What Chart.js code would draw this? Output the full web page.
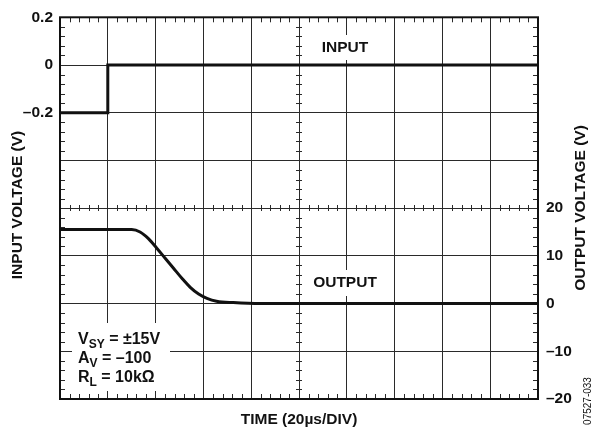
<!DOCTYPE html>
<html><head><meta charset="utf-8">
<script src="https://cdn.jsdelivr.net/npm/chart.js@4"></script>
<style>html,body{margin:0;padding:0;background:#fff}</style>
</head><body>
<canvas id="c" width="600" height="427"></canvas>
<script>
// ---- data (time in µs, 20 µs per division) ----
const inputTime  = [0, 20, 20, 200];
const inputVolt  = [-0.2, -0.2, 0, 0];
const outputTime = [0, 30, 33.5, 37, 40.5, 44, 47.5, 51, 54.5, 58, 61.5, 65.5, 72.5, 84, 200];
const outputVolt = [15.5, 15.5, 15.0, 13.6, 11.6, 9.5, 7.4, 5.3, 3.4, 2.0, 1.1, 0.5, 0.2, 0, 0];
const inputTickLabels  = [0.2, 0, -0.2];
const outputTickLabels = [20, 10, 0, -10, -20];

const FAM = '"Liberation Sans", Arial, Helvetica, sans-serif';
const INK = '#111';
const GRID = '#2a2a2a';

function fmt(v){ const r = Math.round(v*10)/10; return r < 0 ? '\u2013' + String(-r) : String(r); }

const toXY = (xs, ys) => xs.map((x, i) => ({x, y: ys[i]}));

function drawSub(ctx, x, y, parts){
  let cx = x;
  for (const p of parts){
    if (p.sub){ ctx.font = 'bold 12px ' + FAM; ctx.fillText(p.t, cx, y + 4); }
    else { ctx.font = 'bold 16px ' + FAM; ctx.fillText(p.t, cx, y); }
    cx += ctx.measureText(p.t).width;
  }
}

const decor = {
  id: 'decor',
  beforeDatasetsDraw(chart){
    const ctx = chart.ctx;
    ctx.save();
    ctx.fillStyle = '#fff';
    ctx.fillRect(318, 35, 58, 25);   // behind INPUT
    ctx.fillRect(310, 270, 72, 26);  // behind OUTPUT
    ctx.fillRect(72, 323, 98, 68);   // behind conditions
    ctx.restore();
  },
  afterDatasetsDraw(chart){
    const ctx = chart.ctx, a = chart.chartArea;
    const sx = chart.scales.x, sy = chart.scales.y1;
    ctx.save();
    ctx.strokeStyle = GRID; ctx.lineWidth = 1;
    ctx.beginPath();
    for (let d = 0; d < 10; d++){
      for (let k = 1; k < 5; k++){
        const x = Math.round(sx.getPixelForValue(d*20 + k*4)) + 0.5;
        ctx.moveTo(x, a.top); ctx.lineTo(x, a.top + 5);
        ctx.moveTo(x, a.bottom); ctx.lineTo(x, a.bottom - 5);
        const yc = Math.round(sy.getPixelForValue(20));
        ctx.moveTo(x, yc - 3); ctx.lineTo(x, yc + 3);
      }
    }
    for (let d = 0; d < 8; d++){
      for (let k = 1; k < 5; k++){
        const y = Math.round(sy.getPixelForValue(-20 + d*10 + k*2)) + 0.5;
        ctx.moveTo(a.left, y); ctx.lineTo(a.left + 5, y);
        ctx.moveTo(a.right, y); ctx.lineTo(a.right - 5, y);
        const xc = Math.round(sx.getPixelForValue(100));
        ctx.moveTo(xc - 3, y); ctx.lineTo(xc + 3, y);
      }
    }
    ctx.stroke();
    ctx.strokeStyle = INK; ctx.lineWidth = 2;
    ctx.strokeRect(a.left, a.top, a.right - a.left, a.bottom - a.top);
    ctx.restore();
  },
  afterDraw(chart){
    const ctx = chart.ctx;
    ctx.save();
    ctx.fillStyle = INK;
    ctx.font = 'bold 15.5px ' + FAM;
    ctx.textBaseline = 'middle';
    ctx.textAlign = 'center';
    ctx.fillText('INPUT', 345, 48);
    ctx.fillText('OUTPUT', 345, 283);
    ctx.textBaseline = 'alphabetic';
    ctx.fillText('TIME (20\u00b5s/DIV)', 299, 424);
    ctx.save(); ctx.translate(18, 205); ctx.rotate(-Math.PI/2);
    ctx.textBaseline = 'middle'; ctx.fillText('INPUT VOLTAGE (V)', 0, 0); ctx.restore();
    ctx.save(); ctx.translate(581, 208); ctx.rotate(-Math.PI/2);
    ctx.textBaseline = 'middle'; ctx.fillText('OUTPUT VOLTAGE (V)', 0, 0); ctx.restore();
    ctx.save(); ctx.translate(588, 401); ctx.rotate(-Math.PI/2);
    ctx.font = '10px ' + FAM; ctx.textBaseline = 'middle'; ctx.fillText('07527-033', 0, 0); ctx.restore();
    ctx.textAlign = 'left'; ctx.textBaseline = 'alphabetic';
    drawSub(ctx, 78, 344, [{t:'V'},{t:'SY',sub:true},{t:' = \u00b115V'}]);
    drawSub(ctx, 78, 363, [{t:'A'},{t:'V',sub:true},{t:' = \u2013100'}]);
    drawSub(ctx, 78, 382, [{t:'R'},{t:'L',sub:true},{t:' = 10k\u03a9'}]);
    ctx.restore();
  }
};

new Chart(document.getElementById('c'), {
  type: 'line',
  data: {
    datasets: [
      { label: 'INPUT', data: toXY(inputTime, inputVolt), yAxisID: 'y',
        borderColor: INK, borderWidth: 3, pointRadius: 0, tension: 0, fill: false },
      { label: 'OUTPUT', data: toXY(outputTime, outputVolt), yAxisID: 'y1',
        borderColor: INK, borderWidth: 3, pointRadius: 0, cubicInterpolationMode: 'monotone', fill: false }
    ]
  },
  options: {
    responsive: false, animation: false, devicePixelRatio: 1,
    layout: { padding: { top: 17, left: 0, right: 0, bottom: 0 } },
    plugins: { legend: { display: false }, tooltip: { enabled: false } },
    scales: {
      x: {
        type: 'linear', min: 0, max: 200,
        ticks: { stepSize: 20, display: false },
        grid: { color: GRID, lineWidth: 1, drawTicks: false },
        border: { display: false },
        afterFit(s){ s.height = 28; }
      },
      y: {
        position: 'left', min: -1.4, max: 0.2,
        ticks: { stepSize: 0.2, padding: 7, color: INK,
          font: { family: FAM, size: 15.5, weight: 'bold' },
          callback: v => inputTickLabels.some(t => Math.abs(t - v) < 1e-6) ? fmt(v) : '' },
        grid: { display: false, drawTicks: false },
        border: { display: false },
        afterFit(s){ s.width = 60; }
      },
      y1: {
        position: 'right', min: -20, max: 60,
        ticks: { stepSize: 10, padding: 8, color: INK,
          font: { family: FAM, size: 15.5, weight: 'bold' },
          callback: v => outputTickLabels.includes(Math.round(v)) ? fmt(v) : '' },
        grid: { color: GRID, lineWidth: 1, drawTicks: false },
        border: { display: false },
        afterFit(s){ s.width = 62; }
      }
    }
  },
  plugins: [decor]
});
</script>
</body></html>
